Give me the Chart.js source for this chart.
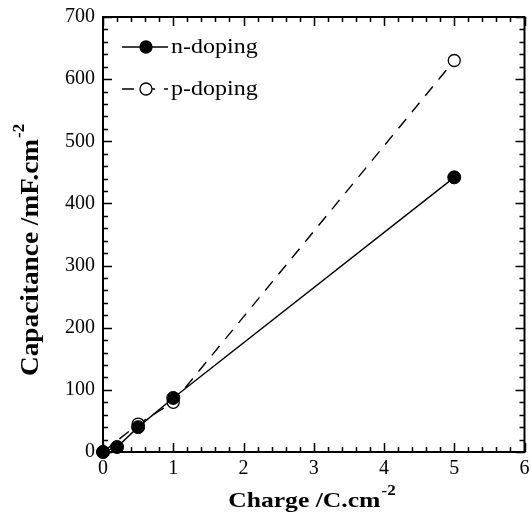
<!DOCTYPE html>
<html>
<head>
<meta charset="utf-8">
<script src="https://cdn.jsdelivr.net/npm/chart.js@4"></script>
<style>
html, body { margin: 0; padding: 0; background: #fff; }
#wrap { width: 532px; height: 517px; }
</style>
</head>
<body>
<div id="wrap"><canvas id="chart" width="532" height="517"></canvas></div>
<script>
// data
const nCharge = [0, 0.2, 0.5, 1, 5];
const nCap = [0, 8, 40, 87, 442];
const pCharge = [0, 0.5, 1, 5];
const pCap = [0, 45, 80, 630];
const xTicks = [0, 1, 2, 3, 4, 5, 6];
const yTicks = [0, 100, 200, 300, 400, 500, 600, 700];

const serif = '"Liberation Serif", "Times New Roman", serif';

function pairs(xs, ys) {
return xs.map((x, i) => ({ x: x, y: ys[i] }));
}

// text with a small superscript, centred on cx, stretched sideways by sx
function supText(ctx, main, s, cx, y, size, supSize, sx) {
ctx.font = 'bold ' + size + 'px ' + serif;
const w1 = ctx.measureText(main).width;
ctx.font = 'bold ' + supSize + 'px ' + serif;
const w2 = ctx.measureText(s).width;
const total = (w1 + w2 + 1) * sx;
ctx.save();
ctx.translate(cx - total / 2, y);
ctx.scale(sx, 1);
ctx.textAlign = 'left';
ctx.textBaseline = 'alphabetic';
ctx.font = 'bold ' + size + 'px ' + serif;
ctx.fillText(main, 0, 0);
ctx.font = 'bold ' + supSize + 'px ' + serif;
ctx.fillText(s, w1 + 1, -size * 0.55);
ctx.restore();
}

// frame, inward ticks, titles with superscripts, legend
const decor = {
id: 'decor',
afterDraw(chart) {
const ctx = chart.ctx;
const a = chart.chartArea;
const xs = chart.scales.x, ys = chart.scales.y;
ctx.save();
ctx.strokeStyle = '#000';
ctx.lineWidth = 2;
ctx.strokeRect(a.left, a.top, a.right - a.left, a.bottom - a.top);

ctx.lineWidth = 1.5;
ctx.beginPath();
for (let v = 0; v <= 6.0001; v += 0.2) {
const px = Math.round(xs.getPixelForValue(v)) + 0.5;
const major = Math.abs(v - Math.round(v)) < 1e-6;
const len = major ? 9 : 5;
ctx.moveTo(px, a.bottom); ctx.lineTo(px, a.bottom - len);
ctx.moveTo(px, a.top); ctx.lineTo(px, a.top + len);
}
for (let v = 0; v <= 700.001; v += 20) {
const py = Math.round(ys.getPixelForValue(v)) + 0.5;
const major = v % 100 === 0;
const len = major ? 9 : 5;
ctx.moveTo(a.left, py); ctx.lineTo(a.left + len, py);
ctx.moveTo(a.right, py); ctx.lineTo(a.right - len, py);
}
ctx.stroke();

// axis titles
ctx.fillStyle = '#000';
supText(ctx, 'Charge /C.cm', '-2', 312, 507, 21, 14, 1.22);

ctx.save();
ctx.translate(38, 250);
ctx.rotate(-Math.PI / 2);
supText(ctx, 'Capacitance /mF.cm', '-2', 0, 0, 26, 16, 1.05);
ctx.restore();

// legend
const items = [
{ label: 'n-doping', y: 47, dash: [], fill: '#000' },
{ label: 'p-doping', y: 89, dash: [12, 9], fill: '#fff' }
];
items.forEach(it => {
ctx.lineWidth = 1.3;
ctx.setLineDash(it.dash);
ctx.beginPath();
ctx.moveTo(122, it.y); ctx.lineTo(168, it.y);
ctx.stroke();
ctx.setLineDash([]);
ctx.beginPath();
ctx.arc(146, it.y, 6, 0, Math.PI * 2);
ctx.fillStyle = it.fill;
ctx.fill();
ctx.stroke();
ctx.fillStyle = '#000';
ctx.save();
ctx.translate(171, it.y + 6);
ctx.scale(1.2, 1);
ctx.font = '20px ' + serif;
ctx.textAlign = 'left';
ctx.textBaseline = 'alphabetic';
ctx.fillText(it.label, 0, 0);
ctx.restore();
});
ctx.restore();
}
};

new Chart(document.getElementById('chart'), {
type: 'scatter',
data: {
datasets: [{
label: 'n-doping',
data: pairs(nCharge, nCap),
showLine: true,
borderColor: '#000',
borderWidth: 1.4,
pointRadius: 6.5,
pointBackgroundColor: '#000',
pointBorderColor: '#000',
pointBorderWidth: 1
}, {
label: 'p-doping',
data: pairs(pCharge, pCap),
showLine: true,
borderColor: '#000',
borderWidth: 1.4,
borderDash: [12, 9],
pointRadius: 6,
pointBackgroundColor: '#fff',
pointBorderColor: '#000',
pointBorderWidth: 1.3
}]
},
options: {
responsive: false,
animation: false,
clip: false,
layout: { padding: { left: 0, top: 17, right: 6, bottom: 0 } },
plugins: {
legend: { display: false },
tooltip: { enabled: false }
},
scales: {
x: {
type: 'linear',
min: 0,
max: 6,
afterFit: s => { s.height = 65; s.paddingLeft = 0; s.paddingRight = 0; },
afterBuildTicks: s => { s.ticks = xTicks.map(v => ({ value: v })); },
grid: { display: false, drawTicks: false },
border: { display: false },
ticks: {
color: '#000',
padding: 5,
font: { family: serif, size: 20 }
}
},
y: {
type: 'linear',
min: 0,
max: 700,
afterFit: s => { s.width = 103; s.paddingTop = 0; s.paddingBottom = 0; },
afterBuildTicks: s => { s.ticks = yTicks.map(v => ({ value: v })); },
grid: { display: false, drawTicks: false },
border: { display: false },
ticks: {
color: '#000',
padding: 8,
font: { family: serif, size: 20 }
}
}
}
},
plugins: [decor]
});
</script>
</body>
</html>
